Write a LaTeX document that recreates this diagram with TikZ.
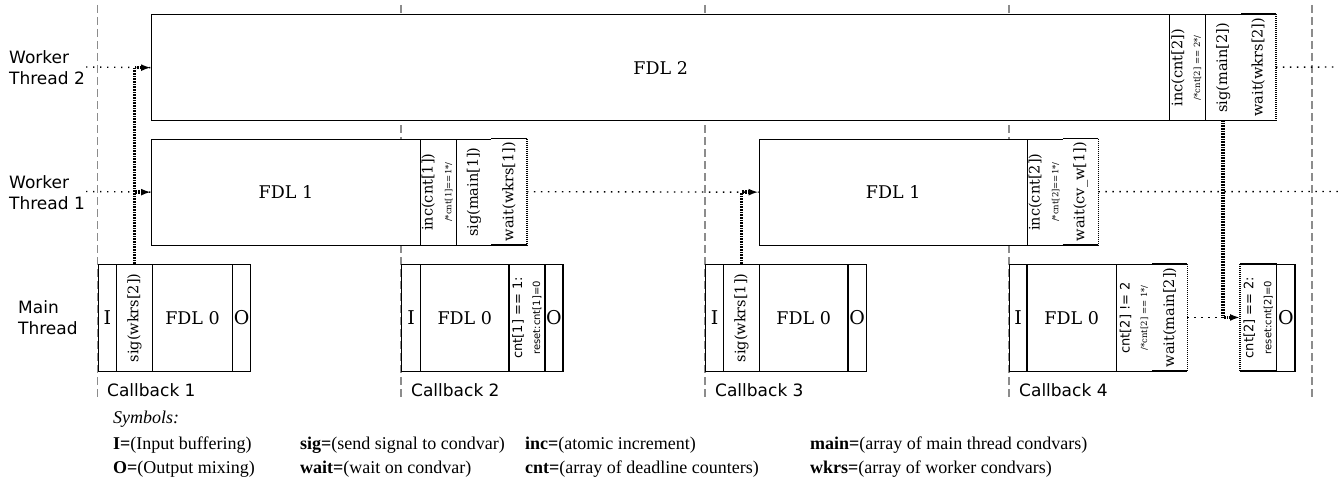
\documentclass[tikz,border=0pt]{standalone}
\usepackage{fontspec}
\setmainfont{Liberation Serif}
\newfontfamily\dvserif{DejaVu Serif}
\newfontfamily\dvsans{DejaVu Sans}
\usetikzlibrary{arrows.meta,calc}
\tikzset{
  cell/.style={draw=black, line width=1.3pt, fill=white, inner sep=0pt, anchor=north west},
  opencell/.style={draw=none, fill=white, inner sep=0pt, anchor=north west},
  edge/.style={line width=1.3pt},
  vline/.style={draw=black!45, line width=1.2pt, dash pattern=on 8pt off 4pt},
  loosedot/.style={line width=1.4pt, dash pattern=on 1.4pt off 5.6pt},
  densedot/.style={line width=3.5pt, dash pattern=on 0.8pt off 0.8pt},
  finedot/.style={line width=1.2pt, dash pattern=on 1pt off 1pt},
  tip/.style={-{Latex[length=10pt,width=7pt]}},
  thrlbl/.style={font=\dvsans\fontsize{17}{21}\selectfont, align=left, inner sep=0pt, anchor=west},
  cblbl/.style={font=\dvsans\fontsize{17}{20}\selectfont, inner sep=0pt, anchor=west},
  big/.style={font=\dvserif\fontsize{17.5}{20}\selectfont, inner sep=0pt},
  io/.style={font=\dvserif\fontsize{19}{22}\selectfont, inner sep=0pt},
  rot/.style={font=\dvserif\fontsize{14.5}{17}\selectfont, rotate=90, inner sep=0pt},
  rotsans/.style={font=\dvsans\fontsize{13}{15}\selectfont, rotate=90, inner sep=0pt},
  rotsmall/.style={font=\dvserif\fontsize{8.5}{10}\selectfont, rotate=90, inner sep=0pt},
  rotsmallsans/.style={font=\dvsans\fontsize{10}{12}\selectfont, rotate=90, inner sep=0pt},
  legend/.style={font=\fontsize{18}{21}\selectfont, inner sep=0pt, anchor=base west},
}
\begin{document}
\begin{tikzpicture}[x=1pt,y=-1pt]
\useasboundingbox (0,0) rectangle (1338,495);
\fill[white] (0,0) rectangle (1338,495);

% dashed callback lines
\foreach \xx/\nm in {97.7/d1,401/d2,705/d3,1009/d4,1312/d5}{
  \coordinate (\nm top) at (\xx,5);
  \coordinate (\nm bot) at (\xx,397);
  \draw[vline] (\nm top) -- (\nm bot);
}

% thread labels
\node[thrlbl] (wt2lbl) at (9,68) {Worker\\Thread 2};
\node[thrlbl] (wt1lbl) at (9,192.5) {Worker\\Thread 1};
\node[thrlbl] (mtlbl) at (18,318) {Main\\Thread};

% ---------------- Worker thread 2 row
\node[cell, minimum width=1018pt, minimum height=106pt] (fdl2) at (151,14) {};
\node[big] at (fdl2.center) {FDL 2};
\node[cell, minimum width=35.5pt, minimum height=106pt] (inc2) at (1169,14) {};
\node[rot] at ($(inc2.center)+(-9.5,0)$) {inc(cnt[2])};
\node[rotsmall] at ($(inc2.center)+(10,0)$) {/*cnt[2] == 2*/};
\node[cell, minimum width=36pt, minimum height=106pt] (sigm2) at (1204.5,14) {};
\node[rot] at (sigm2.center) {sig(main[2])};
\node[opencell, minimum width=35pt, minimum height=106pt] (waitw2) at (1240.5,14) {};
\draw[edge] (waitw2.north east) -- (waitw2.north west) (waitw2.south west) -- (waitw2.south east);
\draw[finedot] (waitw2.north east) -- (waitw2.south east);
\node[rot] at (waitw2.center) {wait(wkrs[2])};

% ---------------- Worker thread 1 row
\node[cell, minimum width=268.5pt, minimum height=106pt] (fdl1a) at (151,138.5) {};
\node[big] at (fdl1a.center) {FDL 1};
\node[cell, minimum width=36pt, minimum height=106pt] (inc1a) at (419.5,138.5) {};
\node[rot] at ($(inc1a.center)+(-10,0)$) {inc(cnt[1])};
\node[rotsmall] at ($(inc1a.center)+(10.5,0)$) {/*cnt[1]==1*/};
\node[cell, minimum width=35.5pt, minimum height=106pt] (sigm1) at (455.5,138.5) {};
\node[rot] at (sigm1.center) {sig(main[1])};
\node[opencell, minimum width=35.5pt, minimum height=106pt] (waitw1) at (491,138.5) {};
\draw[edge] (waitw1.north east) -- (waitw1.north west) (waitw1.south west) -- (waitw1.south east);
\draw[finedot] (waitw1.north east) -- (waitw1.south east);
\node[rot] at (waitw1.center) {wait(wkrs[1])};

\node[cell, minimum width=268pt, minimum height=106pt] (fdl1b) at (758.5,138.5) {};
\node[big] at (fdl1b.center) {FDL 1};
\node[cell, minimum width=36pt, minimum height=106pt] (inc1b) at (1026.5,138.5) {};
\node[rot] at ($(inc1b.center)+(-10,0)$) {inc(cnt[2])};
\node[rotsmall] at ($(inc1b.center)+(10.5,0)$) {/*cnt[2]==1*/};
\node[opencell, minimum width=35.5pt, minimum height=106pt] (waitcv) at (1062.5,138.5) {};
\draw[edge] (waitcv.north east) -- (waitcv.north west) (waitcv.south west) -- (waitcv.south east);
\draw[finedot] (waitcv.north east) -- (waitcv.south east);
\node[rot] at (waitcv.center) {wait(cv\_w[1])};

% ---------------- Main thread row
% Callback 1
\node[cell, minimum width=18.3pt, minimum height=106.5pt] (c1i) at (97.7,264) {};
\node[io] at (c1i.center) {I};
\node[cell, minimum width=35.7pt, minimum height=106.5pt] (c1sig) at (116,264) {};
\node[rot] at (c1sig.center) {sig(wkrs[2])};
\node[cell, minimum width=80.3pt, minimum height=106.5pt] (c1fdl) at (151.7,264) {};
\node[big] at (c1fdl.center) {FDL 0};
\node[cell, minimum width=18pt, minimum height=106.5pt] (c1o) at (232,264) {};
\node[io] at (c1o.center) {O};
\node[cblbl] (cb1) at (107,390) {Callback 1};

% Callback 2
\node[cell, minimum width=19pt, minimum height=106.5pt] (c2i) at (401,264) {};
\node[io] at (c2i.center) {I};
\node[cell, minimum width=88.3pt, minimum height=106.5pt] (c2fdl) at (420,264) {};
\node[big] at (c2fdl.center) {FDL 0};
\node[cell, minimum width=36pt, minimum height=106.5pt] (c2cnt) at (508.3,264) {};
\node[rotsans] at ($(c2cnt.center)+(-9,0)$) {cnt[1] == 1:};
\node[rotsmallsans] at ($(c2cnt.center)+(10,0)$) {reset:cnt[1]=0};
\node[cell, minimum width=18pt, minimum height=106.5pt] (c2o) at (544.3,264) {};
\node[io] at (c2o.center) {O};
\node[cblbl] (cb2) at (411,390) {Callback 2};

% Callback 3
\node[cell, minimum width=18pt, minimum height=106.5pt] (c3i) at (705,264) {};
\node[io] at (c3i.center) {I};
\node[cell, minimum width=35.7pt, minimum height=106.5pt] (c3sig) at (723,264) {};
\node[rot] at (c3sig.center) {sig(wkrs[1])};
\node[cell, minimum width=88.6pt, minimum height=106.5pt] (c3fdl) at (758.7,264) {};
\node[big] at (c3fdl.center) {FDL 0};
\node[cell, minimum width=18.4pt, minimum height=106.5pt] (c3o) at (847.3,264) {};
\node[io] at (c3o.center) {O};
\node[cblbl] (cb3) at (715,390) {Callback 3};

% Callback 4
\node[cell, minimum width=17.8pt, minimum height=106.5pt] (c4i) at (1008.5,264) {};
\node[io] at (c4i.center) {I};
\node[cell, minimum width=89.4pt, minimum height=106.5pt] (c4fdl) at (1026.3,264) {};
\node[big] at (c4fdl.center) {FDL 0};
\node[cell, minimum width=36.3pt, minimum height=106.5pt] (c4cnt) at (1115.7,264) {};
\node[rotsans] at ($(c4cnt.center)+(-9,0)$) {cnt[2] != 2};
\node[rotsmall] at ($(c4cnt.center)+(10,0)$) {/*cnt[2] == 1*/};
\node[opencell, minimum width=35pt, minimum height=106.5pt] (c4wait) at (1152,264) {};
\draw[edge] (c4wait.north east) -- (c4wait.north west) (c4wait.south west) -- (c4wait.south east);
\draw[finedot] (c4wait.north east) -- (c4wait.south east);
\node[rot] at (c4wait.center) {wait(main[2])};
\node[opencell, minimum width=36pt, minimum height=106.5pt] (c4cnt2) at (1240,264) {};
\draw[edge] (c4cnt2.north west) -- (c4cnt2.north east) -- (c4cnt2.south east) -- (c4cnt2.south west);
\draw[finedot] (c4cnt2.north west) -- (c4cnt2.south west);
\node[rotsans] at ($(c4cnt2.center)+(-9,0)$) {cnt[2] == 2:};
\node[rotsmallsans] at ($(c4cnt2.center)+(10,0)$) {reset:cnt[2]=0};
\node[cell, minimum width=18.3pt, minimum height=106.5pt] (c4o) at (1276,264) {};
\node[io] at (c4o.center) {O};
\node[cblbl] (cb4) at (1019,390) {Callback 4};

% ---------------- connectors
\coordinate (wt2end) at (1338,67);
\coordinate (wt1end) at (1338,191.5);
\draw[loosedot] ($(wt2lbl.east)+(1,-1)$) -- (fdl2.west);
\draw[loosedot] ($(wt1lbl.east)+(1,-1)$) -- (fdl1a.west);
\draw[loosedot] (waitw1.east) -- (fdl1b.west);
\draw[loosedot] (waitcv.east) -- (wt1end);
\draw[loosedot] (waitw2.east) -- (wt2end);
\draw[loosedot] (c4wait.east) -- (c4cnt2.west);

\draw[densedot, tip] (c1sig.north) |- (fdl2.west);
\draw[densedot, tip] (c1sig.north) |- (fdl1a.west);
\draw[densedot, tip] (c3sig.north) |- (fdl1b.west);
\draw[densedot, tip] (sigm2.south) |- (c4cnt2.west);

% ---------------- legend
\node[legend] (sym) at (113,423) {\itshape Symbols:};
\node[legend] (l1) at (113,449) {\textbf{I=}(Input buffering)};
\node[legend] (l2) at (113,473) {\textbf{O=}(Output mixing)};
\node[legend] (l3) at (300,449) {\textbf{sig=}(send signal to condvar)};
\node[legend] (l4) at (300,473) {\textbf{wait=}(wait on condvar)};
\node[legend] (l5) at (525,449) {\textbf{inc=}(atomic increment)};
\node[legend] (l6) at (525,473) {\textbf{cnt=}(array of deadline counters)};
\node[legend] (l7) at (810,449) {\textbf{main=}(array of main thread condvars)};
\node[legend] (l8) at (810,473) {\textbf{wkrs=}(array of worker condvars)};
\end{tikzpicture}
\end{document}
